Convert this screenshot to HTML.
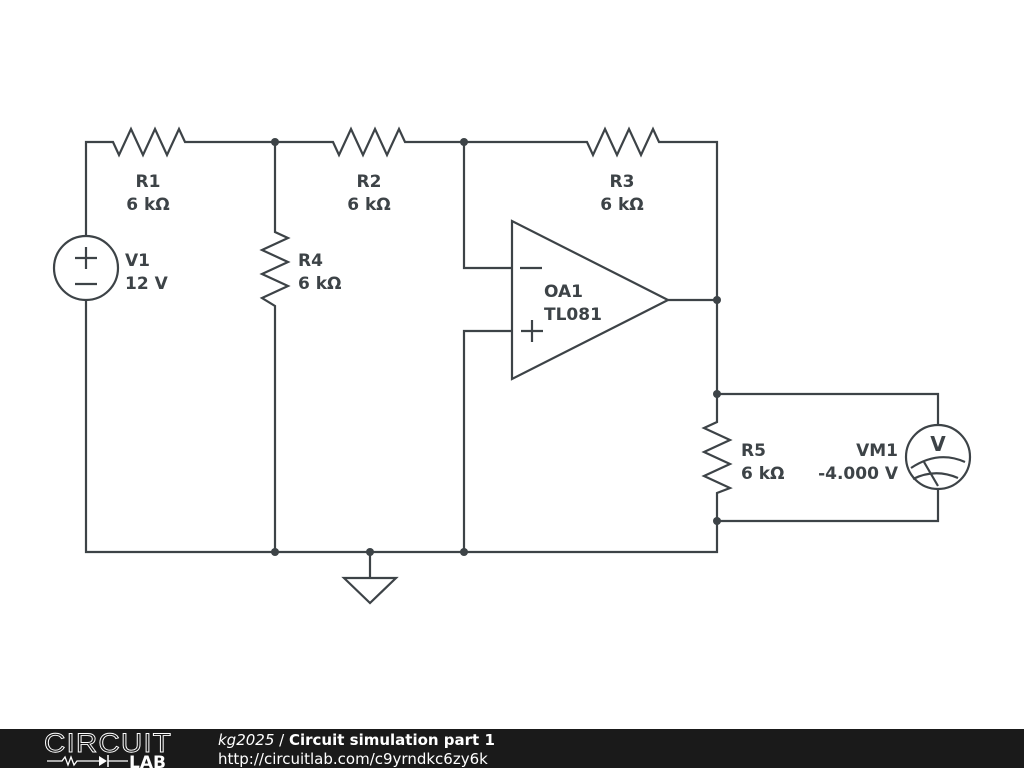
<!DOCTYPE html>
<html><head><meta charset="utf-8"><style>
html,body{margin:0;padding:0;background:#fff;width:1024px;height:768px;overflow:hidden}
svg{display:block}
.t{font-family:"DejaVu Sans","Liberation Sans",sans-serif;font-weight:bold;font-size:17px;fill:#3d4347}
</style></head><body>
<svg width="1024" height="768" viewBox="0 0 1024 768">
<g fill="none" stroke="#3d4347" stroke-width="2.2" stroke-linejoin="miter">
<polyline points="86,236 86,142 113,142 119,155 131,129 143,155 155,129 167,155 179,129 185,142 333,142 339,155 351,129 363,155 375,129 387,155 399,129 405,142 587,142 593,155 605,129 617,155 629,129 641,155 653,129 659,142 717,142 717,422 704,428 730,440 704,452 730,464 704,476 730,488 717,493 717,552 86,552 86,300"/>
<polyline points="275,142 275,232 288,238 262,250 288,262 262,274 288,286 262,298 275,306 275,552"/>
<circle cx="86" cy="268" r="32"/>
<line x1="75" y1="258" x2="97" y2="258"/><line x1="86" y1="247" x2="86" y2="269"/>
<line x1="75" y1="284" x2="97" y2="284"/>
<polygon points="512,221 512,379 668,300"/>
<polyline points="464,142 464,268 512,268"/>
<polyline points="464,552 464,331 512,331"/>
<line x1="668" y1="300" x2="717" y2="300"/>
<line x1="520" y1="268" x2="542" y2="268"/>
<line x1="521" y1="331" x2="543" y2="331"/><line x1="532" y1="320" x2="532" y2="342"/>
<polyline points="717,394 938,394 938,425"/>
<polyline points="938,489 938,521 717,521"/>
<circle cx="938" cy="457" r="32"/>
<path d="M911,468 Q938,450 965,462"/>
<path d="M913,479 Q935,468 958,478"/>
<line x1="924" y1="462" x2="938" y2="486"/>
<line x1="370" y1="552" x2="370" y2="578"/>
<polygon points="344,578 396,578 370,603"/>
</g>
<text x="938" y="451" text-anchor="middle" class="t" style="font-size:20px">V</text>
<g fill="#3d4347">
<circle cx="275" cy="142" r="4"/><circle cx="464" cy="142" r="4"/>
<circle cx="717" cy="300" r="4"/><circle cx="717" cy="394" r="4"/>
<circle cx="717" cy="521" r="4"/><circle cx="275" cy="552" r="4"/>
<circle cx="370" cy="552" r="4"/><circle cx="464" cy="552" r="4"/>
</g>
<text class="t" x="148" y="187" text-anchor="middle">R1</text>
<text class="t" x="148" y="210" text-anchor="middle">6 kΩ</text>
<text class="t" x="369" y="187" text-anchor="middle">R2</text>
<text class="t" x="369" y="210" text-anchor="middle">6 kΩ</text>
<text class="t" x="622" y="187" text-anchor="middle">R3</text>
<text class="t" x="622" y="210" text-anchor="middle">6 kΩ</text>
<text class="t" x="125" y="266">V1</text>
<text class="t" x="125" y="289">12 V</text>
<text class="t" x="298" y="266">R4</text>
<text class="t" x="298" y="289">6 kΩ</text>
<text class="t" x="544" y="297">OA1</text>
<text class="t" x="544" y="320">TL081</text>
<text class="t" x="741" y="456">R5</text>
<text class="t" x="741" y="479">6 kΩ</text>
<text class="t" x="898" y="456" text-anchor="end">VM1</text>
<text class="t" x="898" y="479" text-anchor="end">-4.000 V</text>
<rect x="0" y="729" width="1024" height="39" fill="#1a1a1a"/>
<text x="108" y="752" text-anchor="middle" font-family="Liberation Sans,sans-serif" font-size="27" fill="none" stroke="#fff" stroke-width="0.9" letter-spacing="1" textLength="128" lengthAdjust="spacingAndGlyphs">CIRCUIT</text>
<polyline points="47,761 62,761 65,757 68,765 71,757 74,765 77,761 99,761" fill="none" stroke="#fff" stroke-width="1.3"/>
<polygon points="99,756 99,766 107,761" fill="#fff"/>
<line x1="108" y1="755" x2="108" y2="767" stroke="#fff" stroke-width="1.5"/>
<line x1="108" y1="761" x2="128" y2="761" stroke="#fff" stroke-width="1.3"/>
<text x="129" y="768" font-family="DejaVu Sans,sans-serif" font-weight="bold" font-size="17" fill="#fff">LAB</text>
<text x="218" y="745" font-family="DejaVu Sans,sans-serif" font-size="15" fill="#fff"><tspan font-style="italic">kg2025</tspan> / <tspan font-weight="bold">Circuit simulation part 1</tspan></text>
<text x="218" y="764" font-family="DejaVu Sans,sans-serif" font-size="15" fill="#fff">http://circuitlab.com/c9yrndkc6zy6k</text>
</svg>
</body></html>
